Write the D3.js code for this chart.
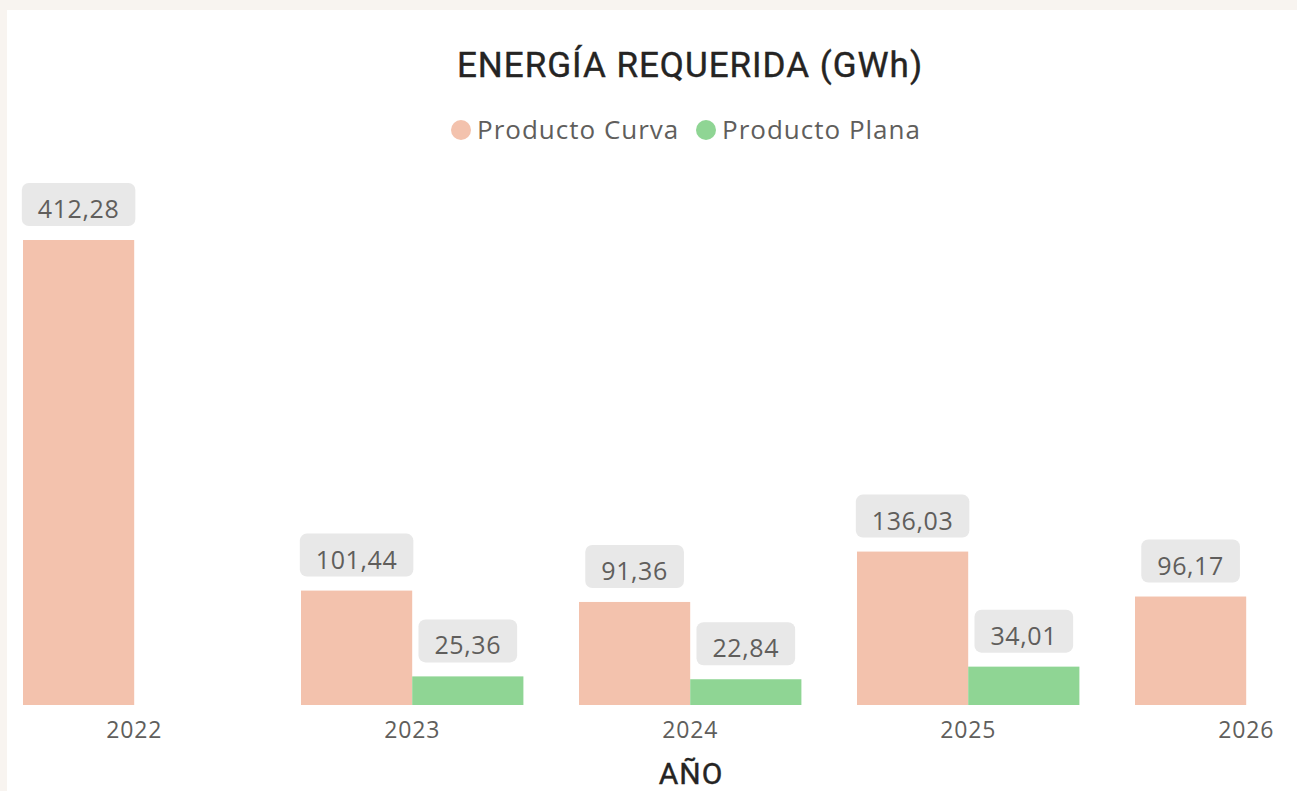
<!DOCTYPE html>
<html>
<head>
<meta charset="utf-8">
<script src="https://cdn.jsdelivr.net/npm/d3@7"></script>
<style>
  body { margin: 0; background: #f8f4f0; }
  svg { display: block; }
</style>
</head>
<body>
<svg id="chart" width="1297" height="791"></svg>
<script>
// ==================================
// data
// ==================================
var years = ["2022", "2023", "2024", "2025", "2026"];
var seriesNames = ["Producto Curva", "Producto Plana"];
var curva = [412.28, 101.44, 91.36, 136.03, 96.17];
var plana = [null, 25.36, 22.84, 34.01, null];
var seriesColors = ["#f3c2ad", "#8fd594"];

var W = 1297, H = 791;
var BASE_Y = 705, TOP_Y = 240;
var STEP = 278;

var svg = d3.select("#chart");

// white panel on the beige page
svg.append("rect")
	.attr("x", 7).attr("y", 10)
	.attr("width", W - 7).attr("height", H - 10)
	.attr("fill", "#ffffff");

// scales
var x0 = d3.scaleBand()
	.domain(years)
	.range([23, 23 + STEP * (years.length - 0.2)])
	.paddingInner(0.2)
	.paddingOuter(0);

var x1 = d3.scaleBand()
	.domain(seriesNames)
	.range([0, x0.bandwidth()])
	.padding(0);

var y = d3.scaleLinear()
	.domain([0, d3.max(curva)])
	.range([BASE_Y, TOP_Y]);

var color = d3.scaleOrdinal().domain(seriesNames).range(seriesColors);

// flatten
var rows = [];
years.forEach(function(yr, i) {
	if (curva[i] != null) rows.push({ year: yr, series: seriesNames[0], value: curva[i] });
	if (plana[i] != null) rows.push({ year: yr, series: seriesNames[1], value: plana[i] });
});

function fmt(v) { return d3.format(".2f")(v).replace(".", ","); }

// title
svg.append("text")
	.attr("x", 690).attr("y", 77)
	.attr("text-anchor", "middle")
	.attr("font-family", "Roboto, 'DejaVu Sans', sans-serif")
	.attr("font-size", 35)
	.attr("letter-spacing", 1)
	.attr("fill", "#252423")
	.attr("stroke", "#252423")
	.attr("stroke-width", 0.4)
	.text("ENERGÍA REQUERIDA (GWh)");

// legend
var legend = svg.append("g").attr("class", "legend");
var lx = [461, 706];
seriesNames.forEach(function(name, i) {
	legend.append("circle")
		.attr("cx", lx[i]).attr("cy", 130).attr("r", 10)
		.attr("fill", color(name));
	legend.append("text")
		.attr("x", lx[i] + 16).attr("y", 139)
		.attr("font-family", "'Open Sans', sans-serif")
		.attr("font-size", 26)
		.attr("letter-spacing", 1)
		.attr("fill", "#605e5c")
		.text(name);
});

// bars
var groups = svg.append("g").selectAll("g.yearGroup")
	.data(rows)
	.enter().append("g")
	.attr("class", "yearGroup")
	.attr("transform", function(d) { return "translate(" + x0(d.year) + ",0)"; });

groups.append("rect")
	.attr("x", function(d) { return x1(d.series); })
	.attr("y", function(d) { return y(d.value); })
	.attr("width", x1.bandwidth())
	.attr("height", function(d) { return BASE_Y - y(d.value); })
	.attr("fill", function(d) { return color(d.series); });

// data labels with rounded grey boxes
groups.each(function(d) {
	var g = d3.select(this);
	var cx = x1(d.series) + x1.bandwidth() / 2;
	var top = y(d.value);
	var t = g.append("text")
		.attr("x", cx).attr("y", top - 22)
		.attr("text-anchor", "middle")
		.attr("font-family", "'Open Sans', sans-serif")
		.attr("font-size", 25)
		.attr("letter-spacing", 0.6)
		.attr("fill", "#605e5c")
		.text(fmt(d.value));
	var tw = t.node().getComputedTextLength();
	g.insert("rect", "text")
		.attr("x", cx - tw / 2 - 16)
		.attr("y", top - 57)
		.attr("width", tw + 32)
		.attr("height", 43)
		.attr("rx", 7)
		.attr("fill", "#e8e8e8");
});

// x axis
var xAxis = svg.append("g")
	.attr("transform", "translate(0," + BASE_Y + ")")
	.call(d3.axisBottom(x0).tickSize(0).tickPadding(17));
xAxis.select(".domain").remove();
xAxis.selectAll("text")
	.attr("font-family", "'Open Sans', sans-serif")
	.attr("font-size", 23)
	.attr("letter-spacing", 0.8)
	.attr("fill", "#605e5c");

svg.append("text")
	.attr("x", 691).attr("y", 784)
	.attr("text-anchor", "middle")
	.attr("font-family", "Roboto, 'DejaVu Sans', sans-serif")
	.attr("font-size", 30)
	.attr("letter-spacing", 1)
	.attr("fill", "#252423")
	.attr("stroke", "#252423")
	.attr("stroke-width", 0.4)
	.text("AÑO");
</script>
</body>
</html>
